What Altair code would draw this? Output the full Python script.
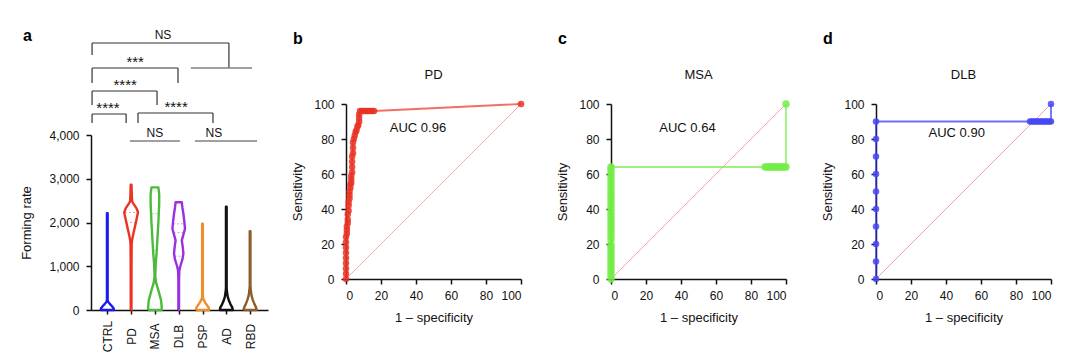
import altair as alt
import pandas as pd

FONT = "Liberation Sans"

# ---------------- panel a : violins ----------------
CATEGORIES = ["CTRL", "PD", "MSA", "DLB", "PSP", "AD", "RBD"]
COLORS = ["#1a1af5", "#ea3323", "#4cbb3c", "#9b30e0", "#f28c28", "#111111", "#8c5e2a"]

# outline profile of each violin: value (forming rate) and relative half width
CTRL_Y = [0, 40, 90, 140, 190, 230, 2210]
CTRL_D = [0.95, 0.91, 0.65, 0.36, 0.11, 0.05, 0.05]
PD_Y = [0, 1000, 1500, 1600, 1750, 1900, 2050, 2235, 2330, 2420, 2480, 2650, 2865]
PD_D = [0.05, 0.06, 0.08, 0.14, 0.33, 0.55, 0.76, 1.0, 0.76, 0.38, 0.15, 0.09, 0.06]
MSA_Y = [0, 80, 230, 450, 620, 760, 900, 1060, 1300, 1670, 2000, 2420, 2650, 2803]
MSA_D = [0.98, 0.98, 0.88, 0.5, 0.18, 0.06, 0.08, 0.12, 0.24, 0.38, 0.5, 0.62, 0.62, 0.5]
DLB_Y = [0, 700, 900, 1000, 1150, 1290, 1450, 1590, 1700, 1856, 2000, 2200, 2350, 2462]
DLB_D = [0.05, 0.05, 0.09, 0.23, 0.53, 0.68, 0.58, 0.45, 0.64, 0.91, 0.83, 0.68, 0.53, 0.45]
PSP_Y = [0, 50, 110, 170, 230, 290, 1970]
PSP_D = [0.95, 0.91, 0.65, 0.39, 0.18, 0.05, 0.05]
AD_Y = [0, 60, 130, 210, 300, 400, 500, 2360]
AD_D = [0.95, 0.86, 0.61, 0.39, 0.21, 0.11, 0.05, 0.05]
RBD_Y = [0, 60, 140, 230, 330, 440, 560, 1800]
RBD_D = [0.95, 0.86, 0.61, 0.39, 0.21, 0.11, 0.05, 0.05]

VIOLIN_Y = [CTRL_Y, PD_Y, MSA_Y, DLB_Y, PSP_Y, AD_Y, RBD_Y]
VIOLIN_D = [CTRL_D, PD_D, MSA_D, DLB_D, PSP_D, AD_D, RBD_D]

# dashed quartile lines
QUART_GROUP = ["PD", "PD", "MSA", "MSA", "DLB", "DLB", "DLB"]
QUART_VALUE = [2230, 2000, 2200, 1360, 1970, 1770, 1230]
QUART_D = [0.9, 0.75, 0.5, 0.25, 0.8, 0.75, 0.6]

# significance brackets (x in category index units, y in forming-rate units)
BR_LEFT = [-0.64, -0.64, -0.64, -0.64, 1.29]
BR_RIGHT = [5.11, 2.97, 2.09, 0.79, 4.44]
BR_TOP = [6103, 5531, 5006, 4480, 4503]
BR_LEFT_END = [5829, 5189, 4686, 4274, 4274]
BR_RIGHT_END = [5531, 5189, 4686, 4274, 4274]
GL_LEFT = [3.51, 0.95, 3.68]
GL_RIGHT = [6.08, 3.05, 6.29]
GL_Y = [5531, 3863, 3863]
LBL_TEXT = ["NS", "***", "****", "****", "****", "NS", "NS"]
LBL_X = [2.34, 1.17, 0.75, 0.03, 2.89, 2.0, 4.48]
LBL_Y = [6187, 5560, 5040, 4510, 4535, 3947, 3947]

# ---------------- ROC panels ----------------
PD_FPR = [0, 0, 0, 0, 0, 0, 0, 0, 0, 0.5, 0.5, 0.5, 1, 1, 1, 1.5, 1.5, 1.5, 2, 2, 2,
          2.5, 2.5, 3, 3, 3, 3.5, 3.5, 3.5, 3.5, 4, 4, 4, 4.5, 5, 5.5, 6, 6.5, 7, 7.5,
          7.5, 7.5, 8, 9, 10, 11, 12, 13, 14, 15, 16, 100]
PD_SENS = [0, 3, 6, 9, 12, 15, 18, 21, 24, 26, 28, 30, 32, 34, 37, 39, 42, 44, 46, 48, 50,
           52, 54, 55, 57, 59, 61, 64, 67, 70, 72, 75, 78, 80, 82, 84, 85, 87, 88, 90,
           92, 94, 96, 96, 96, 96, 96, 96, 96, 96, 96, 100]

MSA_FPR = [0, 0, 0, 0, 0, 0, 0, 0, 0, 0, 0,
           0, 0, 0, 0, 0, 0, 0, 0, 0, 0, 0, 0, 0, 0, 0, 0, 0, 0, 0, 0, 0, 0,
           88, 89, 90, 91, 92, 93, 94, 95, 96, 97, 98, 99, 100, 100]
MSA_SENS = [0, 2, 4, 6, 8, 10, 12, 14, 16, 18, 19.5,
            22.5, 24.5, 26.5, 28.5, 30.5, 32.5, 34.5, 36.5, 38.5, 40.5, 42.5, 44.5,
            46.5, 48.5, 50.5, 52.5, 54.5, 56.5, 58.5, 60.5, 62.5, 64,
            64, 64, 64, 64, 64, 64, 64, 64, 64, 64, 64, 64, 64, 100]

DLB_FPR = [0, 0, 0, 0, 0, 0, 0, 0, 0, 0,
           88, 89, 90, 91, 92, 93, 94, 95, 96, 97, 98, 99, 100, 100]
DLB_SENS = [0, 10, 20, 30, 40, 50, 60, 70, 80, 90,
            90, 90, 90, 90, 90, 90, 90, 90, 90, 90, 90, 90, 90, 100]

ROC_NAMES = ["PD", "MSA", "DLB"]
ROC_LETTERS = ["b", "c", "d"]
ROC_FPR = [PD_FPR, MSA_FPR, DLB_FPR]
ROC_SENS = [PD_SENS, MSA_SENS, DLB_SENS]
ROC_POINT_COLORS = ["#ea3323", "#74ec48", "#4646f5"]
ROC_LINE_COLORS = ["#ea3323", "#74ec48", "#3030f0"]
ROC_POINT_SIZES = [42, 56, 42]
AUC_TEXT = ["AUC 0.96", "AUC 0.64", "AUC 0.90"]
AUC_X = [25, 27.6, 30]
AUC_Y = [86.5, 86.5, 83.5]
DIAG = [0, 100]
TICKS_ROC = [0, 20, 40, 60, 80, 100]

# ---------------- build panel a ----------------
MAXHW = 0.29  # category units for relative width 1
A_W, A_H = 177, 206

rows = []
for i, (name, ys, ds) in enumerate(zip(CATEGORIES, VIOLIN_Y, VIOLIN_D)):
    pts = [(i - d * MAXHW, y) for y, d in zip(ys, ds)]
    pts += [(i + d * MAXHW, y) for y, d in reversed(list(zip(ys, ds)))]
    pts.append(pts[0])
    for k, (xv, yv) in enumerate(pts):
        rows.append({"group": name, "x": xv, "value": yv, "ord": k})
vdf = pd.DataFrame(rows)

qdf = pd.DataFrame({"group": QUART_GROUP, "value": QUART_VALUE, "dens": QUART_D})
qdf["idx"] = [CATEGORIES.index(g) for g in QUART_GROUP]

seg = []
for l, r, t, le, re in zip(BR_LEFT, BR_RIGHT, BR_TOP, BR_LEFT_END, BR_RIGHT_END):
    seg.append({"x": l, "x2": r, "y": t, "y2": t})
    seg.append({"x": l, "x2": l, "y": t, "y2": le})
    seg.append({"x": r, "x2": r, "y": t, "y2": re})
sdf = pd.DataFrame(seg)
gdf = pd.DataFrame({"x": GL_LEFT, "x2": GL_RIGHT, "y": GL_Y})
ldf = pd.DataFrame({"t": LBL_TEXT, "x": LBL_X, "y": LBL_Y})
ldf["big"] = [t.startswith("*") for t in LBL_TEXT]

XA_SCALE = alt.Scale(domain=[-0.685, 6.752], nice=False, zero=False)
YA_SCALE = alt.Scale(domain=[0, 4000], range=[A_H, A_H - 175], nice=False, zero=False)
label_expr = "[" + ",".join("'%s'" % c for c in CATEGORIES) + "][datum.value]"
AX_A_X = alt.Axis(values=list(range(len(CATEGORIES))), labelExpr=label_expr, labelAngle=270,
                  labelAlign="center", labelBaseline="middle", labelPadding=22, tickSize=4,
                  title=None, grid=False)
AX_A_Y = alt.Axis(values=[0, 1000, 2000, 3000, 4000], format=",.0f", title="Forming rate",
                  tickSize=5, labelPadding=7, titlePadding=15, grid=False)


def xa(f):
    return alt.X(f, type="quantitative", scale=XA_SCALE, axis=AX_A_X)


def ya(f):
    return alt.Y(f, type="quantitative", scale=YA_SCALE, axis=AX_A_Y)


color_scale = alt.Scale(domain=CATEGORIES, range=COLORS)

violins = alt.Chart(vdf).mark_line(strokeWidth=2.4, strokeJoin="round").encode(
    y=ya("value"), x=xa("x"),
    color=alt.Color("group:N", scale=color_scale, legend=None),
    order=alt.Order("ord:Q"),
)

quarts = alt.Chart(qdf).transform_calculate(
    left="datum.idx - datum.dens * %f" % MAXHW,
    right="datum.idx + datum.dens * %f" % MAXHW,
).mark_rule(strokeDash=[2, 2], strokeWidth=1, opacity=0.5).encode(
    y=ya("value"), x=xa("left"), x2="right:Q",
    color=alt.Color("group:N", scale=color_scale, legend=None),
)

brackets = alt.Chart(sdf).mark_rule(color="#333333", strokeWidth=1.2).encode(
    x=xa("x"), x2="x2:Q", y=ya("y"), y2="y2:Q")
glines = alt.Chart(gdf).mark_rule(color="#808080", strokeWidth=1.4).encode(
    x=xa("x"), x2="x2:Q", y=ya("y"))
labels_ns = alt.Chart(ldf).transform_filter("!datum.big").mark_text(
    fontSize=12, baseline="alphabetic", align="center", color="#111").encode(
    x=xa("x"), y=ya("y"), text="t:N")
labels_st = alt.Chart(ldf).transform_filter("datum.big").mark_text(
    fontSize=15, baseline="alphabetic", align="center", color="#111").encode(
    x=xa("x"), y=ya("y"), text="t:N")
letter_a = alt.Chart(pd.DataFrame({"t": ["a"]})).mark_text(
    fontSize=16, fontWeight="bold", align="left", baseline="middle", color="#000").encode(
    text="t:N", x=alt.value(-68), y=alt.value(-68))

panel_a = alt.layer(violins, quarts, brackets, glines, labels_ns, labels_st, letter_a).properties(
    width=A_W, height=A_H)

# ---------------- build ROC panels ----------------
R = 175
XR_SCALE = alt.Scale(domain=[0, 100], nice=False, zero=False)
YR_SCALE = alt.Scale(domain=[0, 100], nice=False, zero=False)
AX_R_X = alt.Axis(values=TICKS_ROC, title="1 – specificity", tickSize=5, labelPadding=6,
                  titlePadding=10, grid=False)
AX_R_Y = alt.Axis(values=TICKS_ROC, title="Sensitivity", tickSize=5, labelPadding=7,
                  titlePadding=9, grid=False)


def xr(f):
    return alt.X(f, type="quantitative", scale=XR_SCALE, axis=AX_R_X)


def yr(f):
    return alt.Y(f, type="quantitative", scale=YR_SCALE, axis=AX_R_Y)


panels = []
for k in range(3):
    df = pd.DataFrame({"fpr": ROC_FPR[k], "sens": ROC_SENS[k]})
    df["o"] = range(len(df))
    diag = alt.Chart(pd.DataFrame({"fpr": DIAG, "sens": DIAG})).mark_line(
        color="#f5a8a8", strokeWidth=1).encode(x=xr("fpr"), y=yr("sens"))
    line = alt.Chart(df).mark_line(color=ROC_LINE_COLORS[k], strokeWidth=1.8, opacity=0.7).encode(
        x=xr("fpr"), y=yr("sens"), order="o:Q")
    pts = alt.Chart(df).mark_circle(size=ROC_POINT_SIZES[k], opacity=0.85,
                                    color=ROC_POINT_COLORS[k]).encode(x=xr("fpr"), y=yr("sens"))
    auc = alt.Chart(pd.DataFrame({"t": [AUC_TEXT[k]], "x": [AUC_X[k]], "y": [AUC_Y[k]]})).mark_text(
        fontSize=13, align="left", baseline="middle", color="#111").encode(
        x=xr("x"), y=yr("y"), text="t:N")
    ttl = alt.Chart(pd.DataFrame({"t": [ROC_NAMES[k]]})).mark_text(
        fontSize=13, align="center", baseline="middle", color="#111").encode(
        text="t:N", x=alt.value(R / 2), y=alt.value(-29))
    let = alt.Chart(pd.DataFrame({"t": [ROC_LETTERS[k]]})).mark_text(
        fontSize=16, fontWeight="bold", align="left", baseline="middle", color="#000").encode(
        text="t:N", x=alt.value(-53), y=alt.value(-65))
    panels.append(alt.layer(diag, line, pts, auc, ttl, let).properties(width=R, height=R))

roc_row = alt.hconcat(*panels, spacing=90, bounds="flush")
chart = alt.hconcat(panel_a, roc_row, spacing=78, bounds="flush").properties(
    padding={"left": 12, "top": 20, "right": 5, "bottom": 5}
).configure_axis(
    domainColor="#111", tickColor="#111", domainWidth=1.5, tickWidth=1.5,
    labelColor="#111", titleColor="#111", labelFont=FONT, titleFont=FONT,
    labelFontSize=12, titleFontSize=13, titleFontWeight="normal", grid=False,
).configure_view(stroke=None).configure_text(font=FONT)

chart.save("out.html", embed_options={"renderer": "svg", "actions": False})
